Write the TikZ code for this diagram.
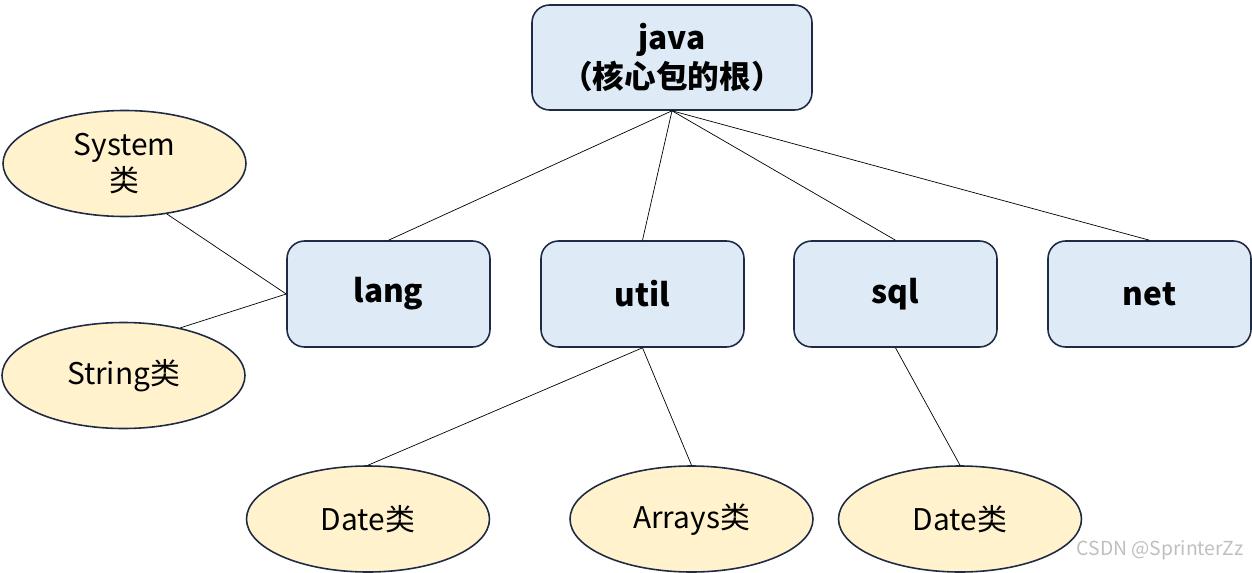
\documentclass[tikz,border=0pt]{standalone}
\usepackage{fontspec}
\setmainfont{Noto Sans CJK SC}
\usetikzlibrary{shapes.geometric}
\definecolor{boxfill}{HTML}{DEEAF6}
\definecolor{ovalfill}{HTML}{FFF2CC}
\definecolor{edgeline}{HTML}{1F2A44}
\tikzset{
  pkg/.style={draw=edgeline, fill=boxfill, rounded corners=10pt, line width=0.9pt,
    minimum width=203*0.02cm, minimum height=106*0.02cm, align=center,
    font=\fontsize{18}{22}\selectfont\bfseries},
  cls/.style={draw=edgeline, fill=ovalfill, ellipse, line width=0.9pt,
    minimum width=243*0.02cm, minimum height=106*0.02cm, inner sep=0pt, align=center,
    font=\fontsize{17}{21}\selectfont},
  link/.style={draw=black, line width=0.4pt}
}
\begin{document}
\begin{tikzpicture}[x=0.02cm,y=-0.02cm]
  \useasboundingbox (0,0) rectangle (1252,572);
  % packages
  \node[pkg, minimum width=280*0.02cm, minimum height=105*0.02cm] (java) at (672,57.5) {java\\（核心包的根）};
  \node[pkg] (lang) at (388.5,294) {lang};
  \node[pkg] (util) at (642.5,294) {util};
  \node[pkg] (sql) at (895.5,294) {sql};
  \node[pkg] (net) at (1149.5,294) {net};
  % classes
  \node[cls] (system) at (124.5,163.5) {System\\类};
  \node[cls] (string) at (123.5,375.5) {String类};
  \node[cls] (date1) at (368,519) {Date类};
  \node[cls] (arrays) at (691.5,519) {Arrays类};
  \node[cls] (date2) at (960,519) {Date类};
  % links
  \foreach \p in {lang,util,sql,net}
    \draw[link] (java.south) -- (\p.north);
  \draw[link] (lang.west) -- (system.-50);
  \draw[link] (lang.west) -- (string.40);
  \draw[link] (util.south) -- (date1.north);
  \draw[link] (util.south) -- (arrays.north);
  \draw[link] (sql.south) -- (date2.north);
  % watermark
  \node[text=black!25, font=\fontsize{11}{13}\selectfont, anchor=east] (mark) at (1250,550) {CSDN @SprinterZz};
\end{tikzpicture}
\end{document}
